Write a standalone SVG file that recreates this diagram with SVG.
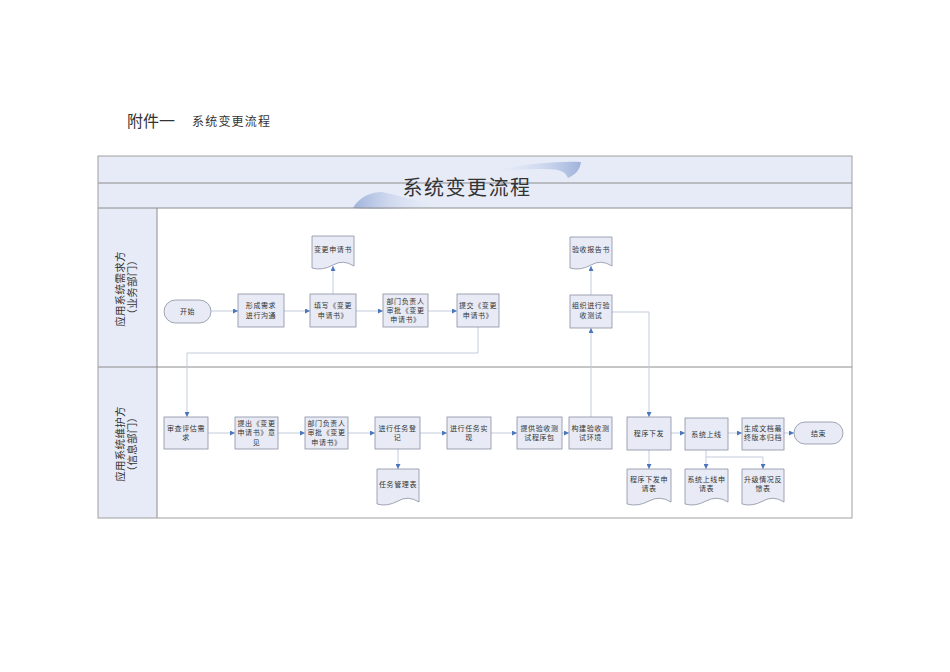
<svg xmlns="http://www.w3.org/2000/svg" width="950" height="672" viewBox="0 0 950 672">
<style>
.t{font-family:"Noto Sans CJK SC","Noto Sans",sans-serif;fill:#333}
.n{font-size:7px;letter-spacing:0.6px;text-anchor:middle}
.box{fill:#e8ebf5;stroke:#8a90a2;stroke-width:0.8}
.doc{fill:#e8ebf5;stroke:#8a90a2;stroke-width:0.8}
.c{fill:none;stroke:#c3cbdd;stroke-width:1}
.ln{fill:none;stroke:#8c8c8c;stroke-width:1}
.lane{font-size:10.5px;text-anchor:middle;letter-spacing:0.3px}
</style>
<defs>
<marker id="a" viewBox="0 0 6 6" refX="6" refY="3" markerWidth="5" markerHeight="5" orient="auto" markerUnits="userSpaceOnUse"><path d="M0,0 L6,3 L0,6 z" fill="#4a76bd"/></marker>
<linearGradient id="g1" x1="0" y1="0" x2="1" y2="0"><stop offset="0" stop-color="#9fb2dc"/><stop offset="1" stop-color="#e6ebf7" stop-opacity="0"/></linearGradient>
<linearGradient id="g2" x1="0" y1="0" x2="1" y2="0"><stop offset="0" stop-color="#e6ebf7" stop-opacity="0"/><stop offset="1" stop-color="#9fb2dc"/></linearGradient>
</defs>
<rect width="950" height="672" fill="#fff"/>
<text class="t" x="127" y="127" font-size="16">附件一</text>
<text class="t" x="192" y="126" font-size="12" letter-spacing="1.2">系统变更流程</text>
<g id="frame">
<rect x="98" y="156" width="754" height="52" fill="#e6ebf7"/>
<rect x="98" y="208" width="59" height="310" fill="#e6ebf7"/>
<path d="M353,208 C360,196 372,192 382,192 C400,196 420,202 440,205 C420,209 390,210 353,208 Z" fill="url(#g1)"/>
<path d="M488,172 C520,165 550,161 581,162 C580,170 575,175 568,178 C566,172 560,169 545,169 C525,169 505,170 488,172 Z" fill="url(#g2)"/>
<line class="ln" x1="98" y1="183" x2="852" y2="183"/>
<line class="ln" x1="98" y1="208" x2="852" y2="208"/>
<line class="ln" x1="98" y1="367" x2="852" y2="367"/>
<line class="ln" x1="157" y1="208" x2="157" y2="518"/>
<rect x="98" y="156" width="754" height="362" fill="none" stroke="#a0a0a0" stroke-width="1"/>
<text class="t" x="467" y="195" font-size="20" letter-spacing="1.5" text-anchor="middle">系统变更流程</text>
<text class="t lane" transform="translate(124,289) rotate(-90)">应用系统需求方</text>
<text class="t lane" font-size="9.5" transform="translate(136,287) rotate(-90)">（业务部门）</text>
<text class="t lane" transform="translate(124,444) rotate(-90)">应用系统维护方</text>
<text class="t lane" font-size="9.5" transform="translate(136,444) rotate(-90)">（信息部门）</text>
</g>
<g id="connectors">
<path class="c" d="M211,311 H238" marker-end="url(#a)"/>
<path class="c" d="M284,311 H310" marker-end="url(#a)"/>
<path class="c" d="M356,311 H383" marker-end="url(#a)"/>
<path class="c" d="M428,311 H457" marker-end="url(#a)"/>
<path class="c" d="M333,294 V266" marker-end="url(#a)"/>
<path class="c" d="M591,295 V266" marker-end="url(#a)"/>
<path class="c" d="M478,327 V353 H187 V417" marker-end="url(#a)"/>
<path class="c" d="M612,312 H649 V417" marker-end="url(#a)"/>
<path class="c" d="M591,417 V328" marker-end="url(#a)"/>
<path class="c" d="M208,433 H235" marker-end="url(#a)"/>
<path class="c" d="M278,433 H305" marker-end="url(#a)"/>
<path class="c" d="M348,433 H375" marker-end="url(#a)"/>
<path class="c" d="M420,433 H447" marker-end="url(#a)"/>
<path class="c" d="M491,433 H517" marker-end="url(#a)"/>
<path class="c" d="M562,433 H569" marker-end="url(#a)"/>
<path class="c" d="M671,433 H685" marker-end="url(#a)"/>
<path class="c" d="M728,433 H742" marker-end="url(#a)"/>
<path class="c" d="M784,433 H794" marker-end="url(#a)"/>
<path class="c" d="M398,449 V469" marker-end="url(#a)"/>
<path class="c" d="M649,450 V469" marker-end="url(#a)"/>
<path class="c" d="M706,450 V469" marker-end="url(#a)"/>
<path class="c" d="M706,457 H763 V469" marker-end="url(#a)"/>
</g>
<g id="start"><rect class="box" x="164" y="300" width="47" height="23" rx="11.5"/><text class="t n" x="187.5" y="314">开始</text></g>
<g id="n1"><rect class="box" x="238" y="294" width="46" height="33"/><text class="t n" x="261" y="307.5">形成需求</text><text class="t n" x="261" y="317.5">进行沟通</text></g>
<g id="n2"><rect class="box" x="310" y="294" width="46" height="33"/><text class="t n" x="333" y="307.5">填写《变更</text><text class="t n" x="333" y="317.5">申请书》</text></g>
<g id="d1"><path class="doc" d="M312,236 H354 V266 Q343,259 333,265 Q322,271 312,268 Z"/><text class="t n" x="333" y="251.5">变更申请书</text></g>
<g id="n3"><rect class="box" x="383" y="294" width="45" height="33"/><text class="t n" x="405.5" y="303.5">部门负责人</text><text class="t n" x="405.5" y="313">审批《变更</text><text class="t n" x="405.5" y="322">申请书》</text></g>
<g id="n4"><rect class="box" x="457" y="294" width="42" height="33"/><text class="t n" x="478" y="307.5">提交《变更</text><text class="t n" x="478" y="317.5">申请书》</text></g>
<g id="d2"><path class="doc" d="M570,237 H612 V266 Q601,259 591,265 Q580,271 570,268 Z"/><text class="t n" x="591" y="251.5">验收报告书</text></g>
<g id="n5"><rect class="box" x="570" y="295" width="42" height="33"/><text class="t n" x="591" y="308">组织进行验</text><text class="t n" x="591" y="318">收测试</text></g>
<g id="n6"><rect class="box" x="164" y="417" width="44" height="32"/><text class="t n" x="186" y="430.5">审查评估需</text><text class="t n" x="186" y="440">求</text></g>
<g id="n7"><rect class="box" x="235" y="417" width="43" height="32"/><text class="t n" x="256.5" y="425.5">提出《变更</text><text class="t n" x="256.5" y="435">申请书》意</text><text class="t n" x="256.5" y="444.5">见</text></g>
<g id="n8"><rect class="box" x="305" y="417" width="43" height="32"/><text class="t n" x="326.5" y="425.5">部门负责人</text><text class="t n" x="326.5" y="435">审批《变更</text><text class="t n" x="326.5" y="444.5">申请书》</text></g>
<g id="n9"><rect class="box" x="375" y="417" width="45" height="32"/><text class="t n" x="397.5" y="430.5">进行任务登</text><text class="t n" x="397.5" y="440">记</text></g>
<g id="d3"><path class="doc" d="M377,469 H419 V502 Q408,495 398,501 Q387,507 377,504 Z"/><text class="t n" x="398" y="486.5">任务管理表</text></g>
<g id="n10"><rect class="box" x="447" y="417" width="44" height="32"/><text class="t n" x="469" y="430.5">进行任务实</text><text class="t n" x="469" y="440">现</text></g>
<g id="n11"><rect class="box" x="517" y="417" width="45" height="32"/><text class="t n" x="539.5" y="430.5">提供验收测</text><text class="t n" x="539.5" y="440">试程序包</text></g>
<g id="n12"><rect class="box" x="569" y="417" width="43" height="32"/><text class="t n" x="590.5" y="430.5">构建验收测</text><text class="t n" x="590.5" y="440">试环境</text></g>
<g id="n13"><rect class="box" x="627" y="417" width="44" height="33"/><text class="t n" x="649" y="436">程序下发</text></g>
<g id="d4"><path class="doc" d="M627,469 H671 V502 Q660,495 649,501 Q638,507 627,504 Z"/><text class="t n" x="649" y="481.5">程序下发申</text><text class="t n" x="649" y="490.5">请表</text></g>
<g id="n14"><rect class="box" x="685" y="418" width="43" height="32"/><text class="t n" x="706.5" y="436.5">系统上线</text></g>
<g id="d5"><path class="doc" d="M685,469 H728 V502 Q717,495 706,501 Q695,507 685,504 Z"/><text class="t n" x="706.5" y="481.5">系统上线申</text><text class="t n" x="706.5" y="490.5">请表</text></g>
<g id="n15"><rect class="box" x="742" y="418" width="42" height="32"/><text class="t n" x="763" y="430.5">生成文档最</text><text class="t n" x="763" y="440">终版本归档</text></g>
<g id="d6"><path class="doc" d="M742,469 H784 V502 Q773,495 763,501 Q752,507 742,504 Z"/><text class="t n" x="763" y="481.5">升级情况反</text><text class="t n" x="763" y="490.5">馈表</text></g>
<g id="end"><rect class="box" x="794" y="422" width="49" height="22" rx="11"/><text class="t n" x="818.5" y="435.5">结束</text></g>
</svg>
